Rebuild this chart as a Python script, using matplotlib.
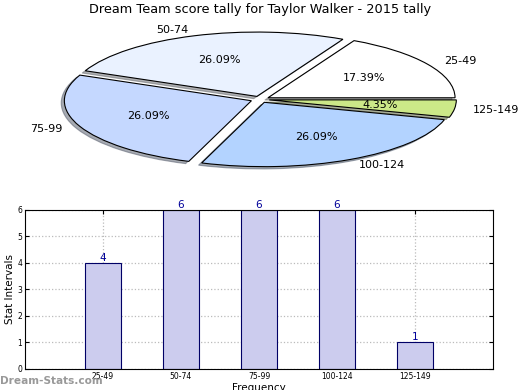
import matplotlib
matplotlib.use("Agg")
import matplotlib.pyplot as plt

intervals = ["25-49", "50-74", "75-99", "100-124", "125-149"]
counts = [4, 6, 6, 6, 1]
pie_colors = ["#ffffff", "#eaf2ff", "#c5d8ff", "#b3d3ff", "#cce888"]

fig = plt.figure(figsize=(5.2, 3.9), dpi=100)

# pie on top, squashed into an ellipse
ax1 = fig.add_axes([0.0, 0.58, 1.0, 0.33])
ax1.pie(counts, labels=intervals, colors=pie_colors, autopct="%.2f%%",
        explode=[0.05] * len(counts),
        shadow={"ox": -0.012, "oy": -0.025, "shade": 0.6}, startangle=0,
        wedgeprops={"edgecolor": "black", "linewidth": 0.8},
        textprops={"fontsize": 8})
ax1.set_aspect("auto")
ax1.set_xlim(-1.39, 1.39)
ax1.set_ylim(-1.0, 1.0)
ax1.axis("off")
fig.text(0.5, 0.975, "Dream Team score tally for Taylor Walker - 2015 tally",
         ha="center", va="center", fontsize=9.3)

# bar chart below
ax2 = fig.add_axes([0.048, 0.054, 0.9, 0.408])
pos = list(range(len(intervals)))
ax2.bar(pos, counts, width=0.46, color="#ccccee", edgecolor="#000066", linewidth=0.8, zorder=2)
for x, c in zip(pos, counts):
    ax2.text(x, c, str(c), ha="center", va="bottom", color="#000099", fontsize=7.5)
ax2.set_xlim(-1, 5)
ax2.set_ylim(0, 6)
ax2.set_xticks(pos)
ax2.set_xticklabels(intervals, fontsize=5.5)
ax2.set_yticks(range(7))
ax2.tick_params(axis="y", labelsize=5.5)
ax2.tick_params(direction="in", top=True, right=True, length=3, pad=2)
ax2.grid(True, linestyle=":", color="#bbbbbb", linewidth=0.9, zorder=0)
ax2.set_ylabel("Stat Intervals", fontsize=7.5, labelpad=2)
ax2.set_xlabel("Frequency", fontsize=7.5, labelpad=2)

fig.text(0.0, 0.022, "Dream-Stats.com", color="#999999", fontsize=7.6, fontweight="bold", va="center")

fig.savefig("out.png", dpi=100)
